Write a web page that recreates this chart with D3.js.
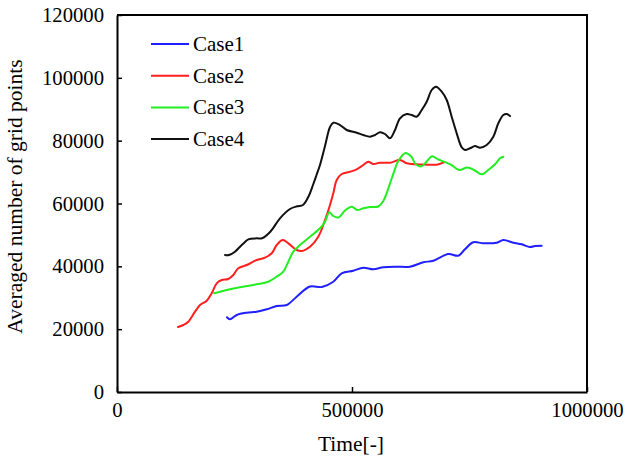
<!DOCTYPE html>
<html>
<head>
<meta charset="utf-8">
<script src="https://cdn.jsdelivr.net/npm/d3@7"></script>
<style>
  html, body { margin: 0; padding: 0; background: #fff; }
  svg { display: block; }
  svg text { fill: #000; }
</style>
</head>
<body>
<svg id="chart" width="627" height="456"></svg>
<script>
// Averaged number of grid points over time, four cases
const case1Time = [234000, 240400, 254700, 276000, 297200, 318500, 339800, 361100, 382300, 410600, 436000, 460200, 478100, 502800, 524100, 545300, 566600, 595100, 623400, 651700, 673000, 704900, 726200, 740400, 758100, 779300, 807900, 822000, 843200, 861100, 878700, 889400, 903600];
const case1Value = [23780, 23140, 24500, 25240, 25560, 26320, 27370, 27690, 30330, 33580, 33420, 35110, 37780, 38610, 39570, 39060, 39690, 39880, 39880, 41280, 41790, 43920, 43380, 45420, 47650, 47330, 47520, 48380, 47520, 47010, 46150, 46470, 46570];

const case2Time = [129800, 141100, 151700, 166000, 176600, 190900, 201500, 212100, 222800, 236800, 247500, 258100, 276000, 297200, 314900, 329200, 339800, 352600, 364500, 382300, 393000, 410600, 428300, 442600, 453200, 460200, 467500, 478100, 495800, 510000, 524100, 534700, 545300, 559600, 580900, 602100, 616400, 637700, 666000, 680200, 694300];
const case2Value = [20690, 21330, 22380, 25560, 27690, 29060, 31420, 34600, 35650, 35970, 37240, 39370, 40420, 42020, 42750, 44150, 46790, 48380, 47330, 45200, 44880, 46250, 49430, 54750, 59520, 63250, 67480, 69390, 70120, 70890, 72250, 73300, 72570, 72990, 72990, 73850, 72800, 72480, 72350, 72350, 72990];

const case3Time = [206400, 219200, 240400, 268700, 297200, 321900, 339800, 353800, 364500, 375100, 389400, 410600, 431900, 442600, 451700, 460200, 471300, 485100, 499400, 510700, 524100, 538300, 555900, 566600, 584500, 598600, 613800, 625500, 636200, 647900, 658900, 670200, 683600, 697900, 712100, 727700, 745700, 759600, 776000, 790000, 804300, 814900, 822000];
const case3Value = [31420, 31930, 32690, 33520, 34280, 35110, 36700, 38290, 41470, 44660, 46790, 49430, 52110, 54210, 57200, 56020, 55540, 57770, 58980, 57930, 58470, 58890, 59040, 60800, 67960, 73530, 76070, 75020, 72410, 71840, 73370, 75020, 74000, 73210, 72250, 70660, 71460, 70660, 69290, 70660, 72470, 74380, 74890];

const case4Time = [229800, 238300, 251100, 261700, 270200, 279400, 297200, 308500, 326200, 346800, 368100, 383000, 395700, 407500, 417000, 424500, 431900, 442600, 453200, 460200, 474500, 488700, 510000, 524100, 538300, 549000, 559600, 570200, 580900, 591500, 602100, 616400, 627000, 637700, 648300, 659000, 669600, 678700, 690900, 701500, 712100, 722800, 733400, 740400, 751100, 761700, 772400, 786600, 800700, 811300, 822000, 829200, 836200];
const case4Value = [43610, 43610, 44660, 46250, 47430, 48600, 48920, 48920, 51020, 55290, 58250, 59110, 59520, 62230, 65890, 69070, 72250, 78300, 84350, 85720, 84980, 83390, 82530, 81800, 81260, 81800, 82660, 82120, 80750, 83390, 87120, 88490, 88170, 87630, 89760, 92400, 96130, 97180, 95590, 92940, 87630, 82340, 77890, 77030, 77570, 78300, 77760, 78620, 81260, 85530, 88170, 88490, 87850];

const seriesNames = ["Case1", "Case2", "Case3", "Case4"];
const seriesColors = ["#1f1fff", "#ff1f1f", "#22ee22", "#111111"];
const xTicks = [0, 500000, 1000000];
const yTicks = [0, 20000, 40000, 60000, 80000, 100000, 120000];
const xLabel = "Time[-]";
const yLabel = "Averaged number of grid points";

const series = [
  { name: seriesNames[0], color: seriesColors[0], t: case1Time, v: case1Value },
  { name: seriesNames[1], color: seriesColors[1], t: case2Time, v: case2Value },
  { name: seriesNames[2], color: seriesColors[2], t: case3Time, v: case3Value },
  { name: seriesNames[3], color: seriesColors[3], t: case4Time, v: case4Value }
];

const fontStack = "'Liberation Serif', 'Times New Roman', Times, serif";
const svg = d3.select("#chart").style("font-family", fontStack);
const plotLeft = 117, plotRight = 587, plotTop = 15, plotBottom = 392;

const x = d3.scaleLinear().domain([0, 1000000]).range([plotLeft, plotRight]);
const y = d3.scaleLinear().domain([0, 120000]).range([plotBottom, plotTop]);

const tickFont = 20.7;

// plot frame (top and right edges)
svg.append("path")
  .attr("d", `M${plotLeft},${plotTop}H${plotRight}V${plotBottom}`)
  .attr("fill", "none").attr("stroke", "#000").attr("stroke-width", 2);

// y axis with inward ticks
const yAxis = svg.append("g").attr("transform", `translate(${plotLeft},0)`)
  .call(d3.axisLeft(y).tickValues(yTicks).tickSizeInner(-5).tickSizeOuter(0).tickPadding(13)
    .tickFormat(d3.format("d")));
yAxis.attr("font-family", fontStack).attr("font-size", tickFont);
yAxis.select(".domain").attr("stroke-width", 2);
yAxis.selectAll(".tick line").attr("stroke-width", 1.5);

// x axis with inward ticks
const xAxis = svg.append("g").attr("transform", `translate(0,${plotBottom})`)
  .call(d3.axisBottom(x).tickValues(xTicks).tickSizeInner(-5).tickSizeOuter(0).tickPadding(10)
    .tickFormat(d3.format("d")));
xAxis.attr("font-family", fontStack).attr("font-size", tickFont);
xAxis.select(".domain").attr("stroke-width", 2);
xAxis.selectAll(".tick line").attr("stroke-width", 1.5);

// axis titles
svg.append("text")
  .attr("x", 351).attr("y", 451)
  .attr("text-anchor", "middle").attr("font-size", 21.5)
  .text(xLabel);

svg.append("text")
  .attr("transform", `translate(22,${(plotTop + plotBottom) / 2 - 7}) rotate(-90)`)
  .attr("text-anchor", "middle").attr("font-size", 21.5)
  .text(yLabel);

// smoothed series lines
const line = d3.line()
  .x(d => x(d[0])).y(d => y(d[1]))
  .curve(d3.curveCatmullRom.alpha(0.5));

svg.append("g").selectAll("path")
  .data(series)
  .join("path")
  .attr("d", s => line(s.t.map((t, i) => [t, s.v[i]])))
  .attr("fill", "none")
  .attr("stroke", s => s.color)
  .attr("stroke-width", 2)
  .attr("stroke-linejoin", "round")
  .attr("stroke-linecap", "round");

// legend
const legendRows = svg.append("g").selectAll("g").data(series).join("g")
  .attr("transform", (s, i) => `translate(151,${44 + i * 31.7})`);
legendRows.append("line")
  .attr("x1", 0).attr("x2", 38).attr("y1", 0).attr("y2", 0)
  .attr("stroke", s => s.color).attr("stroke-width", 2);
legendRows.append("text")
  .attr("x", 42).attr("y", 7)
  .attr("font-size", 21)
  .text(s => s.name);
</script>
</body>
</html>
